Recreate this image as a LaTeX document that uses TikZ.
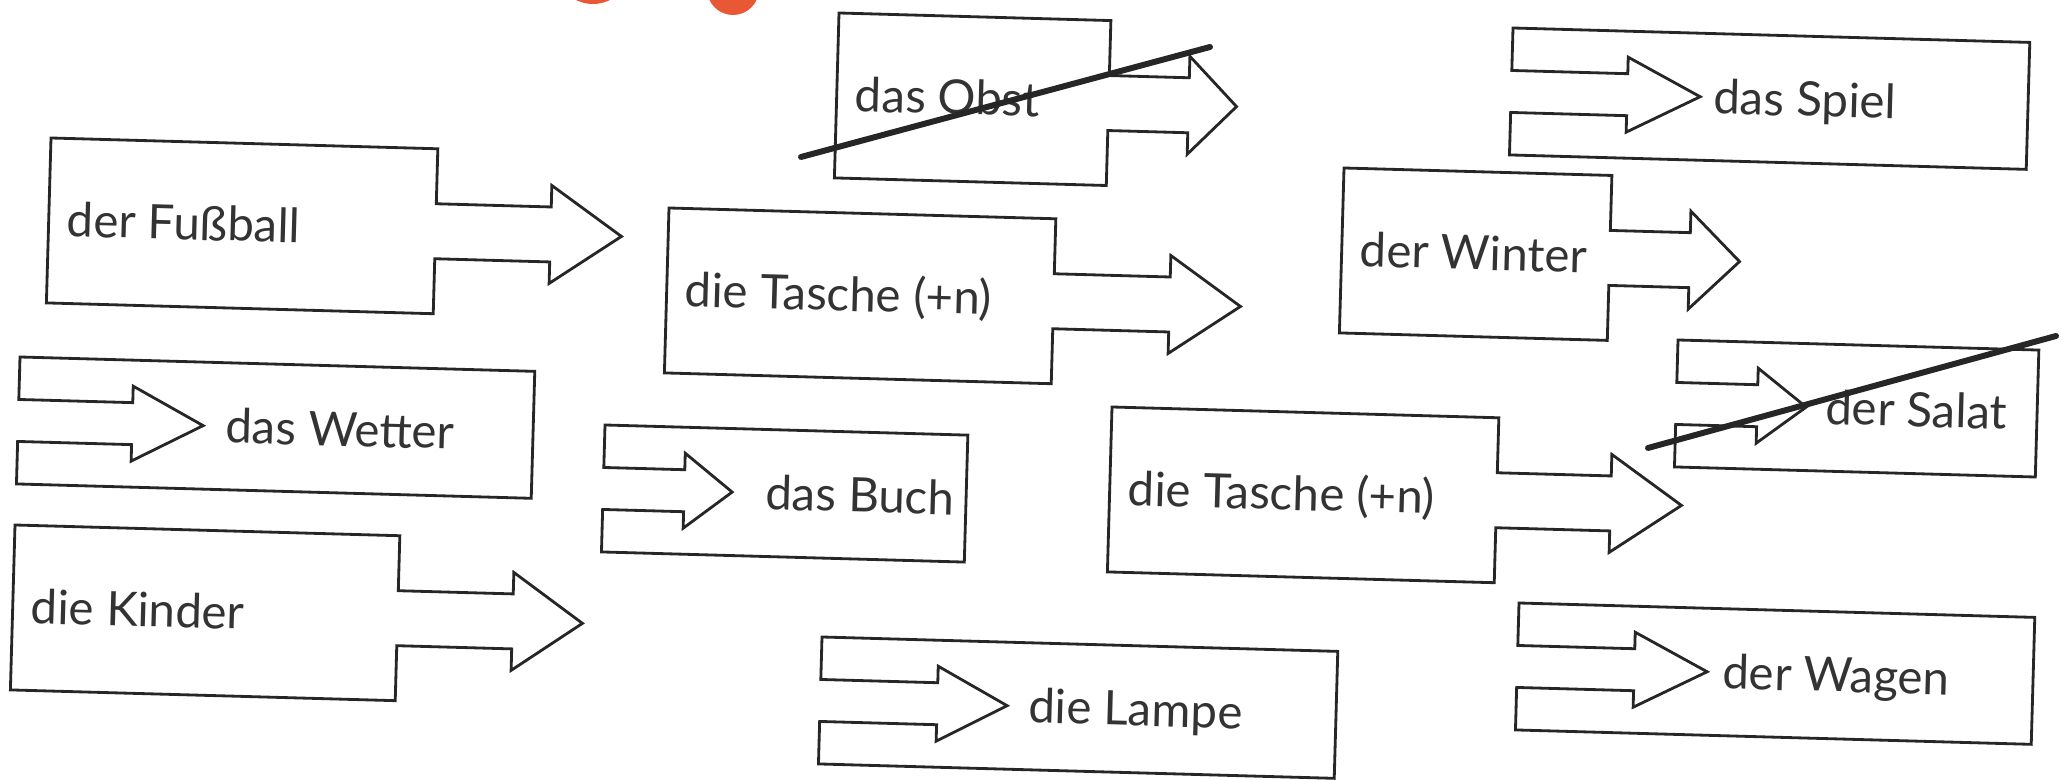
\documentclass[tikz,border=0pt]{standalone}
\usepackage{fontspec}
\setmainfont{Lato}
\newfontfamily\wordfont{Lato}

\definecolor{badge}{RGB}{232,88,52}

\tikzset{
  piece/.style={draw=black!85, line width=0.8pt, line join=miter},
  word/.style={font={\wordfont\fontsize{13.5}{16}\selectfont}, text=black!80,
    inner sep=0pt, anchor=base west, transform shape},
  cross/.style={line width=1.7pt, black!85, line cap=round},
  % box with an arrow on its right side: width/shaft/head/text
  pics/plug/.style args={#1/#2/#3/#4}{code={
    \draw[piece] (0,0) -- (#1,0) -- (#1,55) -- ({#1+#2},55) -- ({#1+#2},33.5)
      -- ({#1+#2+#3},82.5) -- ({#1+#2},131.5) -- ({#1+#2},110) -- (#1,110)
      -- (#1,165) -- (0,165) -- cycle;
    \node[word] (-text) at (18,98) {#4};
  }},
  % box with an arrow cut into its left side: width/shaft/head/text x/text
  pics/socket/.style args={#1/#2/#3/#4/#5}{code={
    \draw[piece] (0,42.5) -- (#2,42.5) -- (#2,26) -- ({#2+#3},63.5) -- (#2,101)
      -- (#2,84.5) -- (0,84.5) -- (0,127) -- (#1,127) -- (#1,0) -- (0,0) -- cycle;
    \node[word] (-text) at (#4,80) {#5};
  }}
}

\begin{document}
\begin{tikzpicture}[x=0.1mm, y=-0.1mm]
  \useasboundingbox (0,0) rectangle (2062,780);

  % badges cut by the top edge
  \begin{scope}
    \clip (0,0) rectangle (2062,780);
    \fill[badge] (593,-34) circle (38);
    \fill[badge] (733,-11) circle (26);
  \end{scope}

  % pieces with an arrow
  \pic[rotate=-1.6] (fussball) at (51,138) {plug={387/115/71/der Fußball}};
  \pic[rotate=-1.6] (obst) at (839,13) {plug={272/80/48/das Obst}};
  \pic[rotate=-1.6] (tasche1) at (669,208) {plug={387/116/71/die Tasche (+n)}};
  \pic[rotate=-1.6] (winter) at (1344,168) {plug={268/80/50/der Winter}};
  \pic[rotate=-1.6] (tasche2) at (1112,407) {plug={387/114/71/die Tasche (+n)}};
  \pic[rotate=-1.6] (kinder) at (15,525) {plug={385/115/70/die Kinder}};

  % pieces with a notch
  \pic[rotate=-1.6] (spiel) at (1513,28) {socket={517/116/73/202/das Spiel}};
  \pic[rotate=-1.6] (salat) at (1678,340) {socket={361/81/49/149/der Salat}};
  \pic[rotate=-1.6] (wagen) at (1519,603) {socket={516/117/73/205/der Wagen}};
  \pic[rotate=-1.6] (lampe) at (822,637) {socket={516/117/70/208/die Lampe}};
  \pic[rotate=-1.6] (buch) at (605,425) {socket={363/81/48/162/das Buch}};
  \pic[rotate=-1.6] (wetter) at (20,357) {socket={515/114/71/207/das Wetter}};

  % crossed out
  \coordinate (obst-a) at (801,157);
  \coordinate (obst-b) at (1210,47);
  \coordinate (salat-a) at (1648,448);
  \coordinate (salat-b) at (2056,336);
  \draw[cross] (obst-a) -- (obst-b);
  \draw[cross] (salat-a) -- (salat-b);
\end{tikzpicture}
\end{document}
